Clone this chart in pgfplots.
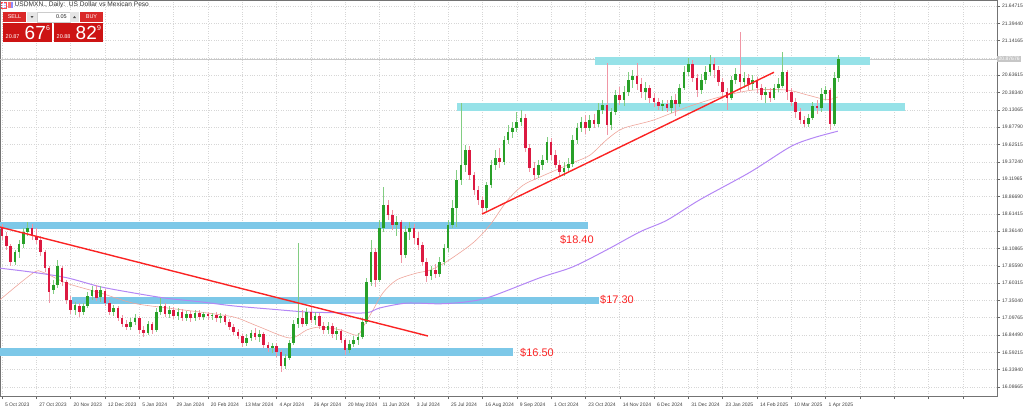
\documentclass[border=0pt]{standalone}
\usepackage{pgfplots}
\pgfplotsset{compat=1.18}
\usepackage{pgfplotstable}
\usepackage{fontspec}
\setmainfont{Liberation Sans}

\definecolor{bull}{RGB}{40,160,40}
\definecolor{bullwick}{RGB}{130,205,130}
\definecolor{bear}{RGB}{220,25,65}
\definecolor{bearwick}{RGB}{240,150,165}
\definecolor{zoneblue}{RGB}{125,200,232}
\definecolor{zonecyan}{RGB}{150,226,232}
\definecolor{trendred}{RGB}{250,35,35}
\definecolor{maslow}{RGB}{180,135,245}
\definecolor{mafast}{RGB}{238,165,155}
\definecolor{mtred}{RGB}{205,20,20}
\definecolor{mtredlight}{RGB}{218,40,40}

% USDMXN daily, two sessions per candle: index, open, high, low, close
\pgfplotstableread{
i o h l c
0 18.41 18.47 18.23 18.29
2 18.29 18.35 18.09 18.14
4 18.14 18.17 17.85 17.91
6 17.91 18.09 17.87 18.06
8 18.06 18.23 17.97 18.17
10 18.17 18.41 18.11 18.35
12 18.35 18.49 18.29 18.41
14 18.41 18.47 18.23 18.29
16 18.29 18.41 18.17 18.23
18 18.23 18.29 18.00 18.06
20 18.06 18.09 17.76 17.82
22 17.82 17.85 17.31 17.47
24 17.50 17.65 17.44 17.57
26 17.57 17.94 17.53 17.85
28 17.82 17.85 17.56 17.62
30 17.62 17.65 17.30 17.36
32 17.36 17.41 17.15 17.21
34 17.21 17.33 17.14 17.28
36 17.27 17.31 17.11 17.18
38 17.18 17.31 17.14 17.27
40 17.27 17.47 17.24 17.41
42 17.41 17.56 17.36 17.50
44 17.50 17.57 17.34 17.38
46 17.40 17.56 17.33 17.50
48 17.49 17.52 17.27 17.31
50 17.31 17.36 17.14 17.18
52 17.18 17.28 17.12 17.24
54 17.24 17.27 17.05 17.09
56 17.09 17.14 16.96 17.01
58 17.01 17.06 16.92 16.96
60 16.96 17.09 16.92 17.03
62 17.03 17.15 16.99 17.09
64 17.09 17.12 16.86 16.92
66 16.92 16.98 16.82 16.87
68 16.87 17.05 16.84 17.01
70 17.01 17.03 16.86 16.92
72 16.92 17.24 16.89 17.18
74 17.18 17.38 17.14 17.27
76 17.27 17.31 17.11 17.15
78 17.15 17.27 17.09 17.21
80 17.21 17.25 17.08 17.12
82 17.12 17.24 17.06 17.18
84 17.18 17.22 17.05 17.09
86 17.09 17.19 17.05 17.15
88 17.15 17.19 17.03 17.09
90 17.09 17.21 17.05 17.17
92 17.17 17.21 17.06 17.11
94 17.11 17.18 17.06 17.15
96 17.15 17.18 17.06 17.12
98 17.12 17.17 17.06 17.14
100 17.14 17.18 17.03 17.09
102 17.09 17.17 17.02 17.12
104 17.12 17.15 16.99 17.03
106 17.03 17.08 16.92 16.96
108 16.96 17.01 16.84 16.89
110 16.89 16.93 16.79 16.83
112 16.83 16.86 16.67 16.73
114 16.73 16.86 16.68 16.80
116 16.80 16.92 16.76 16.87
118 16.87 16.95 16.77 16.82
120 16.82 16.92 16.74 16.86
122 16.86 16.89 16.65 16.70
124 16.70 16.74 16.60 16.65
126 16.65 16.73 16.58 16.68
128 16.68 16.73 16.52 16.60
130 16.60 16.63 16.30 16.39
132 16.39 16.57 16.35 16.51
134 16.51 16.77 16.48 16.73
136 16.73 17.06 16.70 17.01
138 17.01 18.19 16.95 17.09
140 17.09 17.21 16.96 17.01
142 17.01 17.24 16.98 17.18
144 17.18 17.27 17.02 17.06
146 17.06 17.18 16.99 17.12
148 17.12 17.17 16.93 16.98
150 16.98 17.03 16.86 16.92
152 16.92 17.03 16.86 16.98
154 16.98 17.02 16.80 16.86
156 16.86 16.96 16.77 16.90
158 16.90 16.93 16.73 16.77
160 16.77 16.80 16.55 16.63
162 16.63 16.77 16.58 16.71
164 16.71 16.83 16.67 16.77
166 16.77 16.87 16.70 16.82
168 16.82 17.09 16.79 17.03
170 17.03 17.68 17.01 17.62
172 17.62 18.23 17.56 18.06
174 18.06 18.11 17.55 17.65
176 17.65 18.52 17.62 18.41
178 18.41 19.00 18.35 18.74
180 18.74 18.82 18.52 18.60
182 18.60 18.67 18.38 18.45
184 18.45 18.58 18.29 18.49
186 18.49 18.52 17.90 18.01
188 18.01 18.44 17.97 18.35
190 18.35 18.49 18.23 18.41
192 18.41 18.47 18.17 18.26
194 18.26 18.35 18.09 18.16
196 18.16 18.20 17.85 17.91
198 17.91 17.97 17.62 17.71
200 17.71 17.85 17.65 17.79
202 17.79 17.88 17.68 17.74
204 17.74 17.98 17.69 17.91
206 17.91 18.17 17.87 18.11
208 18.11 18.52 18.06 18.45
210 18.45 18.82 18.41 18.70
212 18.70 19.25 18.42 19.11
214 19.11 20.23 19.03 19.33
216 19.33 19.62 19.22 19.55
218 19.55 19.60 19.11 19.18
220 19.18 19.22 18.89 18.96
222 18.96 19.02 18.74 18.82
224 18.82 18.87 18.63 18.70
226 18.70 19.08 18.65 19.03
228 19.03 19.40 18.99 19.33
230 19.33 19.55 19.25 19.43
232 19.43 19.57 19.28 19.37
234 19.37 19.75 19.33 19.69
236 19.69 19.91 19.63 19.81
238 19.81 19.95 19.72 19.87
240 19.87 20.10 19.81 19.95
242 19.95 20.13 19.90 20.01
244 20.01 20.07 19.52 19.57
246 19.57 19.63 19.22 19.28
248 19.28 19.37 19.11 19.18
250 19.18 19.40 19.14 19.33
252 19.33 19.47 19.25 19.40
254 19.40 19.74 19.36 19.66
256 19.66 19.72 19.40 19.47
258 19.47 19.55 19.28 19.33
260 19.33 19.40 19.15 19.22
262 19.22 19.37 19.17 19.28
264 19.28 19.43 19.22 19.34
266 19.34 19.76 19.30 19.69
268 19.69 19.94 19.63 19.87
270 19.87 20.03 19.81 19.95
272 19.95 20.06 19.78 19.87
274 19.87 20.06 19.82 19.98
276 19.98 20.07 19.87 19.92
278 19.92 20.23 19.88 20.13
280 20.13 20.28 20.07 20.20
282 20.20 20.82 19.76 19.91
284 19.91 20.16 19.84 20.10
286 20.10 20.42 20.06 20.35
288 20.35 20.46 20.20 20.28
290 20.28 20.48 20.19 20.39
292 20.39 20.68 20.33 20.57
294 20.57 20.71 20.45 20.63
296 20.63 20.82 20.42 20.51
298 20.51 20.60 20.30 20.39
300 20.39 20.54 20.28 20.45
302 20.45 20.49 20.23 20.30
304 20.30 20.38 20.17 20.25
306 20.25 20.30 20.13 20.19
308 20.19 20.28 20.11 20.22
310 20.22 20.28 20.10 20.16
312 20.16 20.33 20.09 20.28
314 20.28 20.36 20.04 20.22
316 20.22 20.51 20.17 20.45
318 20.45 20.77 20.42 20.68
320 20.68 20.89 20.63 20.80
322 20.80 20.86 20.54 20.60
324 20.60 20.65 20.32 20.42
326 20.42 20.65 20.36 20.57
328 20.57 20.77 20.51 20.68
330 20.68 20.93 20.63 20.80
332 20.80 20.89 20.60 20.71
334 20.71 20.77 20.48 20.54
336 20.54 20.60 20.32 20.39
338 20.39 20.45 20.13 20.30
340 20.30 20.63 20.28 20.57
342 20.57 20.74 20.51 20.65
344 20.65 21.27 20.39 20.54
346 20.54 20.68 20.45 20.60
348 20.60 20.65 20.42 20.51
350 20.51 20.64 20.42 20.57
352 20.57 20.61 20.38 20.45
354 20.45 20.51 20.28 20.35
356 20.35 20.46 20.23 20.39
358 20.39 20.45 20.25 20.30
360 20.30 20.51 20.28 20.45
362 20.45 20.60 20.39 20.51
364 20.48 20.98 20.45 20.68
366 20.68 20.71 20.28 20.39
368 20.39 20.45 20.19 20.25
370 20.25 20.30 20.01 20.10
372 20.10 20.16 19.92 19.98
374 19.98 20.04 19.88 19.92
376 19.92 20.07 19.88 20.01
378 20.01 20.25 19.98 20.19
380 20.19 20.28 20.07 20.16
382 20.16 20.45 20.10 20.36
384 20.36 20.48 20.28 20.42
386 20.42 20.45 19.84 19.92
388 19.92 20.68 19.90 20.60
390 20.60 20.93 20.54 20.87
}\candles

\pgfplotsset{
  candle/.style 2 args={draw=none, no markers, forget plot,
    error bars/.cd, y dir=both, y explicit, error mark=none,
    error bar style={draw=#1, line width=#2}},
}

\begin{document}
\begin{tikzpicture}
\begin{axis}[
  at={(0pt,0pt)}, anchor=north west,
  width=997pt, height=396pt, scale only axis,
  xmin=-0.93, xmax=463.9, ymin=15.954, ymax=21.735,
  axis line style={black!55, line width=0.6pt},
  xtick={0,16,...,448},
  xticklabels={5 Oct 2023,27 Oct 2023,20 Nov 2023,12 Dec 2023,5 Jan 2024,29 Jan 2024,20 Feb 2024,13 Mar 2024,4 Apr 2024,26 Apr 2024,20 May 2024,11 Jun 2024,3 Jul 2024,25 Jul 2024,16 Aug 2024,9 Sep 2024,1 Oct 2024,23 Oct 2024,14 Nov 2024,6 Dec 2024,31 Dec 2024,23 Jan 2025,14 Feb 2025,10 Mar 2025,1 Apr 2025,{},{},{},{}},
  ytick={16.08665,16.3394,16.59215,16.8449,17.09765,17.3504,17.60315,17.8559,18.10865,18.3614,18.61415,18.8669,19.11965,19.3724,19.62515,19.8779,20.13065,20.3834,20.63615,20.8889,21.14165,21.3944,21.64715},
  yticklabels={16.08665,16.33940,16.59215,16.84490,17.09765,17.35040,17.60315,17.85590,18.10865,18.36140,18.61415,18.86690,19.11965,19.37240,19.62515,19.87790,20.13065,20.38340,20.63615,{},21.14165,21.39440,21.64715},
  xtick pos=left, ytick pos=right, yticklabel pos=right,
  tick align=outside, major tick length=3pt,
  tick style={black!60, line width=0.4pt},
  grid=major,
  grid style={black!16, dotted, line width=0.5pt},
  ticklabel style={font=\fontsize{5}{6}\selectfont, text=black!75},
  xticklabel style={anchor=north west, xshift=-0.5pt},
  yticklabel style={anchor=west, xshift=-1.5pt},
  clip mode=individual,
]

% current price line
\addplot[black!22, line width=0.5pt, forget plot] coordinates {(-0.93,20.874) (463.9,20.874)};

% support / resistance zones
\fill[zonecyan] (axis cs:276.5,20.79) rectangle (axis cs:404.7,20.90);
\fill[zonecyan] (axis cs:212.1,20.11) rectangle (axis cs:421.0,20.23);
\fill[zoneblue] (axis cs:-0.93,18.39) rectangle (axis cs:273.2,18.49);
\fill[zoneblue] (axis cs:32.6,17.29) rectangle (axis cs:278.3,17.40);
\fill[zoneblue] (axis cs:-0.93,16.54) rectangle (axis cs:238.2,16.65);

% moving averages
\addplot[mafast, line width=0.6pt, smooth, forget plot] coordinates {
(-0.9,17.36) (14.5,17.75) (19.1,17.76) (30.3,17.60) (45.7,17.46) (61.1,17.31) (76.9,17.24)
(92.3,17.18) (107.7,17.11) (115.6,17.02) (120.3,16.96) (134.3,16.80) (142.2,16.92) (148.3,16.96)
(157.6,16.92) (165.5,16.84) (168.3,16.96) (173.0,17.21) (177.6,17.46) (184.1,17.65) (193.5,17.75)
(199.5,17.79) (207.5,17.92) (219.6,18.19) (227.5,18.45) (235.4,18.80) (242.9,19.03) (250.8,19.15)
(266.2,19.36) (274.1,19.47) (282.1,19.70) (289.5,19.86) (303.5,19.98) (319.3,20.17) (334.7,20.32)
(350.1,20.42) (366.0,20.42) (375.3,20.35) (384.6,20.28) (389.7,20.32)};
\addplot[maslow, line width=1pt, smooth, forget plot] coordinates {
(-0.9,17.82) (14.5,17.76) (30.3,17.68) (45.7,17.55) (61.1,17.46) (76.9,17.38) (92.3,17.33)
(107.7,17.27) (126.3,17.22) (142.2,17.18) (157.6,17.17) (170.2,17.17) (176.2,17.24) (188.8,17.31)
(204.2,17.30) (216.8,17.33) (227.5,17.40) (250.8,17.68) (266.2,17.84) (282.1,18.09) (297.4,18.35)
(310.0,18.52) (325.4,18.82) (348.7,19.22) (367.4,19.59) (378.0,19.72) (389.7,19.82)};

% candles: wicks, then bodies
\addplot[x filter/.expression={\thisrow{c}>=\thisrow{o} ? x : nan}, candle={bullwick}{0.6pt}]
  table[x=i, y expr={(\thisrow{h}+\thisrow{l})/2}, y error expr={(\thisrow{h}-\thisrow{l})/2}] {\candles};
\addplot[x filter/.expression={\thisrow{c}<\thisrow{o} ? x : nan}, candle={bearwick}{0.6pt}]
  table[x=i, y expr={(\thisrow{h}+\thisrow{l})/2}, y error expr={(\thisrow{h}-\thisrow{l})/2}] {\candles};
\addplot[x filter/.expression={\thisrow{c}>=\thisrow{o} ? x : nan}, candle={bull}{2.6pt}]
  table[x=i, y expr={(\thisrow{o}+\thisrow{c})/2}, y error expr={abs(\thisrow{c}-\thisrow{o})/2}] {\candles};
\addplot[x filter/.expression={\thisrow{c}<\thisrow{o} ? x : nan}, candle={bear}{2.6pt}]
  table[x=i, y expr={(\thisrow{o}+\thisrow{c})/2}, y error expr={abs(\thisrow{c}-\thisrow{o})/2}] {\candles};

% trend lines
\addplot[trendred, line width=1.4pt, forget plot] coordinates {(-0.93,18.42) (198.6,16.83)};
\addplot[trendred, line width=1.4pt, forget plot] coordinates {(223.8,18.61) (359.9,20.68)};

% level labels
\node[anchor=west, inner sep=0pt, text=trendred, font=\fontsize{11}{13}\selectfont] at (axis cs:260.1,18.23) {\$18.40};
\node[anchor=west, inner sep=0pt, text=trendred, font=\fontsize{11}{13}\selectfont] at (axis cs:278.8,17.36) {\$17.30};
\node[anchor=west, inner sep=0pt, text=trendred, font=\fontsize{11}{13}\selectfont] at (axis cs:241.5,16.58) {\$16.50};

% price tag on the scale
\node[anchor=west, fill=black!22, text=white, inner xsep=1.5pt, inner ysep=1.2pt, font=\fontsize{5}{6}\selectfont] at (axis cs:463.9,20.874) {20.87676};
\end{axis}

% one-click trading panel
\begin{scope}[x=1pt, y=-1pt]
  \fill[blue!25] (1,2) rectangle (6,8);
  \draw[red!70, line width=0.4pt] (1,2) rectangle (6,8);
  \draw[white, line width=0.3pt] (1,4) -- (6,4) (1,6) -- (6,6) (3.5,2) -- (3.5,8);
  \fill[red!55] (8,2) rectangle (10.5,8);
  \fill[blue!45] (10.5,2) rectangle (13,8);
  \node[anchor=west, inner sep=0pt, text=black!80, font=\fontsize{6.6}{7}\selectfont] at (14.5,5) {USDMXN., Daily:\ \ US Dollar vs Mexican Peso};

  \fill[mtredlight] (3,12) rectangle (26,22);
  \node[text=white, font=\fontsize{5.5}{6}\selectfont] at (14.5,17) {SELL};
  \fill[black!10] (27,12) rectangle (37,22);
  \fill[black!70] (30.5,16) -- (33.5,16) -- (32,18) -- cycle;
  \fill[white] (37,12) rectangle (70,22);
  \draw[black!20, line width=0.3pt] (37,12) rectangle (70,22);
  \node[anchor=east, inner sep=0pt, text=black!85, font=\fontsize{5.5}{6}\selectfont] at (67,17) {0.05};
  \fill[black!10] (70,12) rectangle (79,22);
  \fill[black!70] (73,18) -- (76,18) -- (74.5,16) -- cycle;
  \fill[mtredlight] (80,12) rectangle (103,22);
  \node[text=white, font=\fontsize{5.5}{6}\selectfont] at (91.5,17) {BUY};

  \fill[mtred] (3,23) rectangle (52,42);
  \fill[mtred] (54,23) rectangle (103,42);
  \node[anchor=base west, inner sep=0pt, text=white, font=\fontsize{5.5}{6}\selectfont] at (5.5,38) {20.87};
  \node[anchor=base west, inner sep=0pt, text=white, font=\fontsize{19}{19}\selectfont] at (24.5,39) {67};
  \node[anchor=base west, inner sep=0pt, text=white, font=\fontsize{7}{7}\selectfont] at (46,30.5) {6};
  \node[anchor=base west, inner sep=0pt, text=white, font=\fontsize{5.5}{6}\selectfont] at (56.5,38) {20.88};
  \node[anchor=base west, inner sep=0pt, text=white, font=\fontsize{19}{19}\selectfont] at (75.5,39) {82};
  \node[anchor=base west, inner sep=0pt, text=white, font=\fontsize{7}{7}\selectfont] at (97,30.5) {9};
\end{scope}

\pgfresetboundingbox
\path[use as bounding box] (0pt,0pt) rectangle (1024pt,-413pt);
\end{tikzpicture}
\end{document}
